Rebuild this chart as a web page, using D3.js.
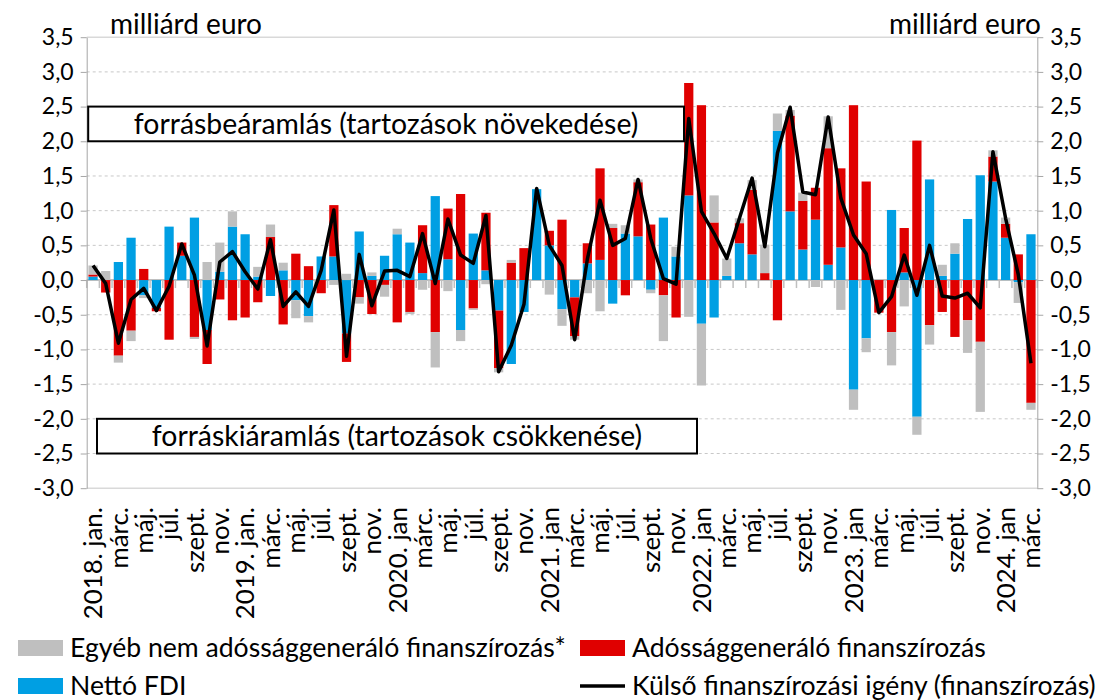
<!DOCTYPE html>
<html>
<head>
<meta charset="utf-8">
<script src="https://cdn.jsdelivr.net/npm/d3@7"></script>
<style>
  body { margin: 0; background: #fff; }
  svg { display: block; font-family: Lato, "Open Sans", sans-serif; }
</style>
</head>
<body>
<svg id="chart" width="1115" height="700"></svg>
<script>
// tick labels, one for every second month (2018 jan .. 2024 márc)
const tickLabels = [
  '2018. jan.', 'márc.', 'máj.', 'júl.', 'szept.', 'nov.',
  '2019. jan.', 'márc.', 'máj.', 'júl.', 'szept.', 'nov.',
  '2020. jan', 'márc.', 'máj.', 'júl.', 'szept.', 'nov.',
  '2021. jan', 'márc.', 'máj.', 'júl.', 'szept.', 'nov.',
  '2022. jan', 'márc.', 'máj.', 'júl.', 'szept.', 'nov.',
  '2023. jan', 'márc.', 'máj.', 'júl.', 'szept.', 'nov.',
  '2024. jan', 'márc.'
];

// Nettó FDI (billion euro)
const fdi = [
  0.05, 0, 0.26, 0.61, -0.22, -0.40, 0.77, 0.35, 0.90, -0.72, 0.12, 0.77,
  0.66, 0.05, -0.23, 0.14, -0.29, -0.52, 0.34, 0.34, -0.77, 0.70, 0.06, 0.35,
  0.66, 0.54, 0.10, 1.21, 0.30, -0.72, 0.67, 0.14, -0.44, -1.21, -0.46, 1.31,
  0.50, -0.42, -0.25, 0.24, 0.29, -0.34, 0.67, 0.63, -0.14, 0.90, 0.34, 1.22,
  -0.63, -0.54, 0.06, 0.53, 0.37, 0, 2.15, 0.99, 0.44, 0.87, 0.22, 0.47,
  -1.58, -0.84, 0, 1.01, 0.11, -1.97, 1.45, 0.06, 0.38, 0.88, 1.51, 1.42,
  0.61, -0.03, 0.66
];

// Adóssággeneráló finanszírozás
const debt = [
  0.03, -0.18, -1.09, -0.73, 0.16, -0.05, -0.86, 0.19, -0.82, -0.49, -0.28, -0.58,
  -0.54, -0.32, 0.62, -0.64, 0.38, 0.20, -0.19, 0.74, -0.41, -0.25, -0.49, -0.07,
  -0.61, -0.46, 0.69, -0.75, 0.73, 1.24, -0.41, 0.83, -0.83, 0.25, 0.46, 0,
  0.21, 0.87, -0.56, 0.29, 1.32, 0.75, -0.22, 0.78, 0.80, -0.22, -0.54, 1.62,
  2.52, 0.83, 0, 0.29, 0.93, 0.10, -0.58, 1.38, 0.70, 0.46, 1.68, 1.14,
  2.52, 1.42, -0.47, -0.75, 0.64, 2.01, -0.65, -0.46, -0.82, -0.58, -0.89, 0.36,
  0.20, 0.37, -1.77
];

// Egyéb nem adóssággeneráló finanszírozás
const other = [
  0.13, 0.13, -0.10, -0.15, -0.04, 0, 0, 0, -0.03, 0.26, 0.42, 0.22,
  0, 0.14, 0.18, 0.11, -0.26, -0.09, 0, -0.07, 0.09, -0.09, 0.05, -0.17,
  0.08, -0.03, -0.14, -0.51, -0.16, -0.16, -0.02, -0.06, -0.06, 0.04, 0, 0,
  -0.21, -0.24, -0.05, -0.19, -0.45, 0.06, 0.12, 0.04, -0.05, -0.66, 0.14, -0.53,
  -0.89, 0.39, 0.25, 0.07, 0.14, 0.41, 0.25, 0.08, 0.12, -0.10, 0.46, -0.43,
  -0.29, -0.20, 0, -0.48, -0.38, -0.26, -0.28, 0.16, 0.15, -0.47, -1.01, 0.09,
  0.09, -0.30, -0.10
];

// Külső finanszírozási igény (finanszírozás)
const need = [
  0.21, -0.05, -0.91, -0.28, -0.12, -0.44, -0.09, 0.52, 0.07, -0.95, 0.26, 0.41,
  0.12, -0.13, 0.58, -0.38, -0.17, -0.38, 0.14, 1.01, -1.10, 0.37, -0.37, 0.13,
  0.14, 0.05, 0.67, -0.05, 0.88, 0.36, 0.24, 0.93, -1.32, -0.94, -0.35, 1.32,
  0.50, 0.21, -0.86, 0.30, 1.15, 0.50, 0.60, 1.45, 0.60, 0.02, -0.06, 2.33,
  0.99, 0.67, 0.31, 0.89, 1.47, 0.48, 1.83, 2.49, 1.27, 1.23, 2.35, 1.18,
  0.65, 0.38, -0.47, -0.24, 0.36, -0.22, 0.50, -0.23, -0.26, -0.19, -0.40, 1.85,
  0.89, 0.08, -1.20
];

const colors = { fdi: '#009FE3', debt: '#E00000', other: '#BFBFBF', need: '#000000' };

const svg = d3.select('#chart');
const plot = { left: 86.7, right: 1037.3, top: 37.2, bottom: 488.2 };

const months = d3.range(fdi.length);
const x = d3.scaleBand()
  .domain(months)
  .range([plot.left, plot.right])
  .paddingInner(0.27)
  .paddingOuter(0.135);
const y = d3.scaleLinear().domain([-3, 3.5]).range([plot.bottom, plot.top]);

const yTicks = d3.range(-6, 8).map(k => k / 2);
const fmt = d3.formatLocale({
  decimal: ',', thousands: ' ', grouping: [3], currency: ['', ''], minus: '-'
}).format('.1f');

// gridlines
svg.append('g')
  .selectAll('line')
  .data(yTicks.filter(v => v !== 0))
  .enter()
  .append('line')
  .attr('x1', plot.left)
  .attr('x2', plot.right)
  .attr('y1', d => y(d))
  .attr('y2', d => y(d))
  .attr('stroke', d => (d === 3.5 || d === -3) ? '#d9d9d9' : '#c8c8c8')
  .attr('stroke-width', d => (d === 3.5 || d === -3) ? 1.5 : 1)
  .attr('stroke-dasharray', d => (d === 3.5 || d === -3) ? null : '3,3');

// category axis at zero: line + ticks at month boundaries
const gZero = svg.append('g');
gZero.selectAll('line')
  .data(d3.range(fdi.length + 1))
  .enter()
  .append('line')
  .attr('x1', d => plot.left + d * x.step())
  .attr('x2', d => plot.left + d * x.step())
  .attr('y1', y(0))
  .attr('y2', y(0) + 8)
  .attr('stroke', '#bfbfbf')
  .attr('stroke-width', 1.5);
gZero.append('line')
  .attr('x1', plot.left)
  .attr('x2', plot.right)
  .attr('y1', y(0))
  .attr('y2', y(0))
  .attr('stroke', '#bfbfbf')
  .attr('stroke-width', 2);

// stacked bars
const rows = months.map(i => ({ i: i, fdi: fdi[i], debt: debt[i], other: other[i] }));
const series = d3.stack()
  .keys(['fdi', 'debt', 'other'])
  .offset(d3.stackOffsetDiverging)(rows);

svg.append('g')
  .selectAll('g')
  .data(series)
  .enter()
  .append('g')
  .attr('fill', s => colors[s.key])
  .selectAll('rect')
  .data(s => s)
  .enter()
  .append('rect')
  .attr('x', d => x(d.data.i))
  .attr('width', x.bandwidth())
  .attr('y', d => y(Math.max(d[0], d[1])))
  .attr('height', d => Math.abs(y(d[0]) - y(d[1])));

// line
const lineGen = d3.line()
  .x(i => x(i) + x.bandwidth() / 2)
  .y(i => y(need[i]));
svg.append('path')
  .datum(months)
  .attr('fill', 'none')
  .attr('stroke', colors.need)
  .attr('stroke-width', 3.5)
  .attr('stroke-linejoin', 'round')
  .attr('d', lineGen);

// y axes
const styleAxis = g => {
  g.selectAll('.domain').attr('stroke', '#a6a6a6');
  g.selectAll('.tick line').attr('stroke', '#a6a6a6');
  g.selectAll('.tick text')
    .attr('fill', '#000')
    .attr('font-size', 23)
    .attr('font-family', 'Lato, "Open Sans", sans-serif');
};
svg.append('g')
  .attr('transform', `translate(${plot.left},0)`)
  .call(d3.axisLeft(y).tickValues(yTicks).tickFormat(fmt).tickSize(6).tickPadding(7).tickSizeOuter(0))
  .call(styleAxis);
svg.append('g')
  .attr('transform', `translate(${plot.right},0)`)
  .call(d3.axisRight(y).tickValues(yTicks).tickFormat(fmt).tickSize(6).tickPadding(7).tickSizeOuter(0))
  .call(styleAxis);

// x labels (every second month)
const xAxis = svg.append('g')
  .attr('transform', `translate(0,${plot.bottom})`)
  .call(d3.axisBottom(x)
    .tickValues(months.filter(i => i % 2 === 0))
    .tickFormat(i => tickLabels[i / 2])
    .tickSize(0));
xAxis.select('.domain').remove();
xAxis.selectAll('.tick text')
  .attr('transform', 'rotate(-90)')
  .attr('x', -19)
  .attr('y', 0)
  .attr('dy', '0.36em')
  .attr('text-anchor', 'end')
  .attr('fill', '#000')
  .attr('font-size', 25.8)
  .attr('font-family', 'Lato, "Open Sans", sans-serif');

// unit labels
svg.append('text')
  .attr('x', 110).attr('y', 34)
  .attr('font-size', 28)
  .text('milliárd euro');
svg.append('text')
  .attr('x', 1041).attr('y', 34)
  .attr('text-anchor', 'end')
  .attr('font-size', 28)
  .text('milliárd euro');

// annotation boxes
const notes = [
  { text: 'forrásbeáramlás (tartozások növekedése)', x0: plot.left + 1.5, x1: 684, top: 2.5, bottom: 2.0 },
  { text: 'forráskiáramlás (tartozások csökkenése)', x0: 97, x1: 697, top: -2.0, bottom: -2.5 }
];
const gNotes = svg.append('g');
notes.forEach(n => {
  gNotes.append('rect')
    .attr('x', n.x0)
    .attr('y', y(n.top))
    .attr('width', n.x1 - n.x0)
    .attr('height', y(n.bottom) - y(n.top))
    .attr('fill', '#fff')
    .attr('stroke', '#000')
    .attr('stroke-width', 2);
  gNotes.append('text')
    .attr('x', (n.x0 + n.x1) / 2)
    .attr('y', (y(n.top) + y(n.bottom)) / 2)
    .attr('dy', '0.35em')
    .attr('text-anchor', 'middle')
    .attr('font-size', 28.4)
    .text(n.text);
});

// legend
const legendItems = [
  { label: 'Egyéb nem adóssággeneráló finanszírozás*', key: 'other', lx: 18, ly: 648 },
  { label: 'Adóssággeneráló finanszírozás', key: 'debt', lx: 580, ly: 648 },
  { label: 'Nettó FDI', key: 'fdi', lx: 18, ly: 686 },
  { label: 'Külső finanszírozási igény (finanszírozás)', key: 'need', lx: 580, ly: 686 }
];
const gLegend = svg.append('g');
legendItems.forEach(it => {
  if (it.key === 'need') {
    gLegend.append('line')
      .attr('x1', it.lx).attr('x2', it.lx + 45)
      .attr('y1', it.ly).attr('y2', it.ly)
      .attr('stroke', colors.need)
      .attr('stroke-width', 3.5);
  } else {
    gLegend.append('rect')
      .attr('x', it.lx).attr('y', it.ly - 8)
      .attr('width', 45).attr('height', 16)
      .attr('fill', colors[it.key]);
  }
  gLegend.append('text')
    .attr('x', it.lx + 52)
    .attr('y', it.ly)
    .attr('dy', '0.35em')
    .attr('font-size', 26.6)
    .text(it.label);
});
</script>
</body>
</html>
